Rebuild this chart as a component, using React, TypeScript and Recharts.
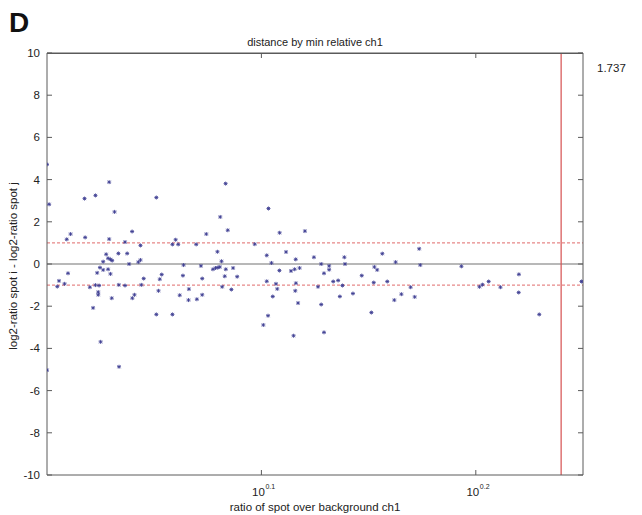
import React from "react";
import {
  ScatterChart,
  Scatter,
  XAxis,
  YAxis,
  ReferenceLine,
  CartesianGrid,
} from "recharts";

// log10 of "ratio of spot over background ch1" for each spot
const exponents: number[] = [
  0.0, 0.001, 0.029, 0.0175, 0.0226, 0.051, 0.0315, 0.0397, 0.011, 0.0092,
  0.0178, 0.029, 0.0364, 0.0436, 0.0585, 0.06, 0.0612, 0.0276, 0.0285, 0.0296,
  0.0304, 0.0262, 0.0333, 0.0374, 0.0383, 0.0426, 0.0436, 0.0247, 0.0262, 0.0285,
  0.0234, 0.0296, 0.0098, 0.0056, 0.0048, 0.0082, 0.02, 0.0226, 0.0243, 0.0239,
  0.0239, 0.0335, 0.0364, 0.0302, 0.0215, 0.0408, 0.0398, 0.044, 0.0451, 0.052,
  0.0526, 0.0535, 0.051, 0.0585, 0.025, 0.0336, 0.0619, 0.0634, 0.0,
  0.0833, 0.1033, 0.0808, 0.0743, 0.0843, 0.1085, 0.1203, 0.0696, 0.0969, 0.0795,
  0.1025, 0.1115, 0.116, 0.1245, 0.0814, 0.1047, 0.0637, 0.0718, 0.0774, 0.0786,
  0.0797, 0.0806, 0.0834, 0.0868, 0.0724, 0.0829, 0.0887, 0.1084, 0.1138, 0.1155,
  0.1178, 0.0662, 0.066, 0.0699, 0.0724, 0.0817, 0.086, 0.1025, 0.1068, 0.1074,
  0.1053, 0.1161, 0.1158, 0.1171, 0.1264, 0.1031, 0.1009, 0.115,
  0.1736, 0.1564, 0.1387, 0.1279, 0.1316, 0.1316, 0.139, 0.1527, 0.154, 0.1626,
  0.1741, 0.1292, 0.1468, 0.1335, 0.1358, 0.1378, 0.1524, 0.1587, 0.1696, 0.1366,
  0.1427, 0.1653, 0.1715, 0.162, 0.1279, 0.1513, 0.1292,
  0.1933, 0.2201, 0.2017, 0.2031, 0.206, 0.2115, 0.22, 0.2296, 0.2493,
];

// log2-ratio spot i - log2-ratio spot j
const distances: number[] = [
  4.72, 2.83, 3.88, 3.1, 3.25, 3.15, 2.47, 1.54, 1.42, 1.17,
  1.26, 1.18, 1.04, 0.88, 0.93, 1.15, 0.93, 0.46, 0.27, 0.22,
  0.16, 0.11, 0.5, 0.5, 0.0, 0.09, 0.19, -0.17, -0.28, -0.25,
  -0.42, -0.47, -0.44, -0.8, -1.07, -0.94, -1.1, -1.0, -1.02, -1.33,
  -1.46, -0.99, -1.02, -1.62, -2.08, -1.46, -1.62, -0.99, -0.69, -1.27,
  -0.72, -0.5, -2.39, -2.39, -3.69, -4.87, -1.48, -0.55, -5.03,
  3.81, 2.63, 2.23, 1.42, 1.6, 1.48, 1.56, 0.93, 0.94, 0.58,
  0.41, 0.57, 0.22, 0.32, 0.13, 0.05, -0.05, -0.09, -0.25, -0.19,
  -0.17, -0.14, -0.25, -0.19, -0.69, -0.58, -0.6, -0.31, -0.33, -0.25,
  -0.19, -1.19, -1.71, -1.67, -1.46, -1.08, -1.21, -0.82, -0.94, -1.18,
  -1.54, -0.91, -1.27, -1.85, -1.08, -2.45, -2.89, -3.4,
  0.72, 0.49, 0.32, 0.0, -0.09, -0.27, 0.0, -0.14, -0.28, 0.09,
  -0.05, -0.44, -0.55, -0.83, -0.78, -1.02, -0.88, -0.83, -1.1, -1.54,
  -1.4, -1.43, -1.56, -1.71, -1.92, -2.3, -3.24,
  -0.11, -0.49, -1.08, -0.98, -0.83, -1.1, -1.35, -2.39, -0.83,
];

const xDomainExp: number[] = [0, 0.25];
const xTickExps: number[] = [0.1, 0.2];
const yTicks: number[] = [-10, -8, -6, -4, -2, 0, 2, 4, 6, 8, 10];
const thresholdValue = 1.737;
const thresholdLabel = "1.737";
const cutoffs: number[] = [1, -1];

const title = "distance by min relative ch1";
const xLabel = "ratio of spot over background ch1";
const yLabel = "log2-ratio spot i - log2-ratio spot j";
const panelLetter = "D";

const data = exponents.map((e, i) => ({ x: Math.pow(10, e), y: distances[i] }));
const xDomain = xDomainExp.map((e) => Math.pow(10, e));
const xTicks = xTickExps.map((e) => Math.pow(10, e));

const FONT = "'Liberation Sans', Arial, Helvetica, sans-serif";
const AXIS = "#5a5a5a";
const TXT = "#222";

// plot box (page pixels)
const W = 642;
const H = 515;
const M = { top: 53, right: 54, bottom: 20, left: 17 };
const Y_AXIS_W = 30;
const R_AXIS_W = 5;
const X_AXIS_H = 20;
const plotLeft = M.left + Y_AXIS_W;
const plotRight = W - M.right - R_AXIS_W;
const plotTop = M.top;

const expOf = (v: number) => {
  const e = Math.log10(v);
  return (Math.round(e * 10) / 10).toString();
};

const BottomTick = (p: any) => (
  <g>
    <line x1={p.x} x2={p.x} y1={p.y} y2={p.y - 5} stroke={AXIS} />
    <text x={p.x - 3} y={p.y + 21} textAnchor="middle" fontFamily={FONT} fontSize={11.5} fill={TXT}>
      10
    </text>
    <text x={p.x + 4} y={p.y + 14} textAnchor="start" fontFamily={FONT} fontSize={7} fill={TXT}>
      {expOf(p.payload.value)}
    </text>
  </g>
);

const LeftTick = (p: any) => (
  <g>
    <line x1={p.x} x2={p.x + 5} y1={p.y} y2={p.y} stroke={AXIS} />
    <text x={p.x - 7} y={p.y + 4} textAnchor="end" fontFamily={FONT} fontSize={11.5} fill={TXT}>
      {p.payload.value}
    </text>
  </g>
);

const RightTick = (p: any) => (
  <line x1={p.x} x2={p.x - 5} y1={p.y} y2={p.y} stroke={AXIS} />
);

const Star = (p: any) => {
  const { cx, cy } = p;
  if (cx == null || cy == null) return <g />;
  const r = 2;
  const d = 1.5;
  return (
    <g stroke="#3d3d92" strokeWidth={1} strokeOpacity={0.85}>
      <line x1={cx - r} x2={cx + r} y1={cy} y2={cy} />
      <line x1={cx} x2={cx} y1={cy - r} y2={cy + r} />
      <line x1={cx - d} x2={cx + d} y1={cy - d} y2={cy + d} />
      <line x1={cx - d} x2={cx + d} y1={cy + d} y2={cy - d} />
    </g>
  );
};

const topTickX = (e: number) =>
  plotLeft + ((plotRight - plotLeft) * (e - xDomainExp[0])) / (xDomainExp[1] - xDomainExp[0]);

export default function App() {
  return (
    <div style={{ position: "absolute", left: 0, top: 0, width: W, height: H, background: "#fff" }}>
      <ScatterChart width={W} height={H} margin={M}>
        <CartesianGrid
          xAxisId="b"
          yAxisId="l"
          vertical={false}
          horizontalValues={[10]}
          stroke={AXIS}
          strokeDasharray=""
        />
        <XAxis
          xAxisId="b"
          dataKey="x"
          type="number"
          scale="log"
          domain={xDomain}
          allowDataOverflow
          ticks={xTicks}
          height={X_AXIS_H}
          tickSize={0}
          tickMargin={0}
          tickLine={false}
          tick={BottomTick}
          stroke={AXIS}
          interval={0}
        />
        <YAxis
          yAxisId="l"
          dataKey="y"
          type="number"
          domain={[-10, 10]}
          allowDataOverflow
          ticks={yTicks}
          width={Y_AXIS_W}
          tickSize={0}
          tickMargin={0}
          tickLine={false}
          tick={LeftTick}
          stroke={AXIS}
          interval={0}
        />
        <YAxis
          yAxisId="r"
          orientation="right"
          dataKey="y"
          type="number"
          domain={[-10, 10]}
          allowDataOverflow
          ticks={yTicks}
          width={R_AXIS_W}
          tickSize={0}
          tickMargin={0}
          tickLine={false}
          tick={RightTick}
          stroke={AXIS}
          interval={0}
        />
        <ReferenceLine xAxisId="b" yAxisId="l" y={0} stroke="#a0a0a0" strokeWidth={1.6} />
        {cutoffs.map((c) => (
          <ReferenceLine
            key={c}
            xAxisId="b"
            yAxisId="l"
            y={c}
            stroke="#e06a6a"
            strokeWidth={1}
            strokeDasharray="3 2"
          />
        ))}
        <ReferenceLine xAxisId="b" yAxisId="l" x={thresholdValue} stroke="#d65050" strokeWidth={1.2} />
        <Scatter
          xAxisId="b"
          yAxisId="l"
          data={data}
          shape={Star}
          isAnimationActive={false}
        />
      </ScatterChart>
      <svg
        width={W}
        height={H}
        style={{ position: "absolute", left: 0, top: 0, pointerEvents: "none" }}
      >
        <line x1={plotLeft} x2={plotRight} y1={plotTop + 0.5} y2={plotTop + 0.5} stroke={AXIS} strokeWidth={1} />
        {xTickExps.map((e) => (
          <line
            key={e}
            x1={topTickX(e)}
            x2={topTickX(e)}
            y1={plotTop}
            y2={plotTop + 5}
            stroke={AXIS}
          />
        ))}
        <text x={9} y={32} fontFamily={FONT} fontWeight="bold" fontSize={28} fill="#111">
          {panelLetter}
        </text>
        <text x={315} y={46} textAnchor="middle" fontFamily={FONT} fontSize={11} fill={TXT}>
          {title}
        </text>
        <text x={597} y={72} fontFamily={FONT} fontSize={11.5} fill={TXT}>
          {thresholdLabel}
        </text>
        <text x={315} y={511} textAnchor="middle" fontFamily={FONT} fontSize={11.5} fill={TXT}>
          {xLabel}
        </text>
        <text
          x={0}
          y={0}
          transform="translate(17,266) rotate(-90)"
          textAnchor="middle"
          fontFamily={FONT}
          fontSize={11.5}
          fill={TXT}
        >
          {yLabel}
        </text>
      </svg>
    </div>
  );
}
